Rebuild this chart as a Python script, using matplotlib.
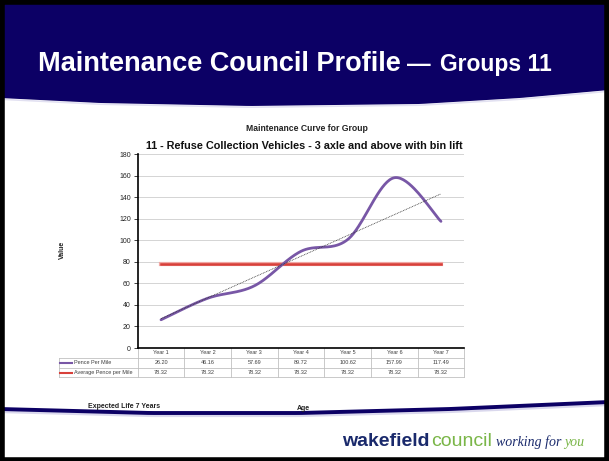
import numpy as np
import matplotlib
matplotlib.use('Agg')
import matplotlib.pyplot as plt
from matplotlib.transforms import blended_transform_factory

plt.rcParams['font.family'] = ['Liberation Sans', 'DejaVu Sans']

# chart data
years = ['Year 1', 'Year 2', 'Year 3', 'Year 4', 'Year 5', 'Year 6', 'Year 7']
pence_per_mile = [26.20, 46.16, 57.69, 89.72, 100.62, 157.99, 117.49]
avg_pence = [78.32, 78.32, 78.32, 78.32, 78.32, 78.32, 78.32]
y_ticks = [0, 20, 40, 60, 80, 100, 120, 140, 160, 180]

navy = '#0c0065'
purple = '#7857a6'
red = '#d8403a'


# excel style smoothed line (bezier through the points)
def smooth(xs, ys, n=40):
    pts = np.column_stack([xs, ys]).astype(float)
    out = []
    for i in range(len(pts) - 1):
        p0 = pts[max(i - 1, 0)]
        p1 = pts[i]
        p2 = pts[i + 1]
        p3 = pts[min(i + 2, len(pts) - 1)]
        c1 = p1 + (p2 - p0) / 6
        c2 = p2 - (p3 - p1) / 6
        t = np.linspace(0, 1, n)[:, None]
        seg = (1 - t) ** 3 * p1 + 3 * (1 - t) ** 2 * t * c1 + 3 * (1 - t) * t ** 2 * c2 + t ** 3 * p2
        out.append(seg)
    out = np.vstack(out)
    return out[:, 0], out[:, 1]


W, H = 609, 461
fig = plt.figure(figsize=(W / 100, H / 100), dpi=100)

# background / slide decoration in pixel coords
bg = fig.add_axes([0, 0, 1, 1])
bg.set_xlim(0, W)
bg.set_ylim(H, 0)
bg.axis('off')

# banner
bx = np.linspace(0, W, 100)
bottom = np.interp(bx, [0, 100, 250, 420, 520, W], [98, 103, 106, 104, 98, 90])
bg.fill_between(bx, 0, bottom, color=navy, lw=0, zorder=1)
bg.plot(bx, bottom + 1.2, color='#b8b4de', lw=1.2, alpha=0.4, zorder=1)

bg.text(38, 71, 'Maintenance Council Profile', color='white', fontsize=19.5,
        fontweight='bold', va='baseline', ha='left', zorder=3)
bg.text(407, 71, '\u2014', color='white', fontsize=17, fontweight='bold',
        va='baseline', ha='left', zorder=3)
bg.text(440, 71, 'Groups 11', color='white', fontsize=16.5, fontweight='bold',
        va='baseline', ha='left', zorder=3)

# bottom swoosh
lx = np.linspace(0, W, 100)
ly = np.interp(lx, [0, 150, 300, 450, W], [409, 413, 413, 409, 402])
bg.plot(lx, ly + 2, color='#b6b2dc', lw=3, alpha=0.5, zorder=1)
bg.plot(lx, ly, color=navy, lw=2.8, zorder=2)

bg.text(88, 406, 'Expected Life 7 Years', fontsize=5, fontweight='bold',
        color='#222222', va='center', ha='left')
bg.text(303, 408, 'Age', fontsize=5, fontweight='bold', color='#222222',
        va='center', ha='center')
bg.text(62, 250, 'Value', fontsize=5, fontweight='bold', color='#222222',
        va='center', ha='center', rotation=90)
bg.text(307, 128, 'Maintenance Curve for Group', fontsize=6.2, fontweight='bold',
        color='#222222', va='center', ha='center')
bg.text(304, 146, '11 - Refuse Collection Vehicles - 3 axle and above with bin lift',
        fontsize=7.8, fontweight='bold', color='#111111', va='center', ha='center')

# logo
bg.text(342, 441, 'wakefield', fontsize=14, fontweight='bold', color='#1a2a6c',
        va='center', ha='left')
bg.text(431, 441, 'council', fontsize=14, color='#7ab648', va='center', ha='left')
bg.text(496, 442, 'working for', fontsize=10, style='italic', color='#1a2a6c',
        va='center', ha='left', family='Liberation Serif')
bg.text(564, 442, 'you', fontsize=10, style='italic', color='#7ab648',
        va='center', ha='left', family='Liberation Serif')

# black frame
bg.plot([1.5, 1.5, W - 2, W - 2, 1.5], [2, H - 1.5, H - 1.5, 2, 2], color='black', lw=4, zorder=5)

# chart axes
ax_l, ax_r, ax_t, ax_b = 137.7, 464.3, 154, 348
ax = fig.add_axes([ax_l / W, 1 - ax_b / H, (ax_r - ax_l) / W, (ax_b - ax_t) / H])
ax.patch.set_alpha(0)
x = np.arange(len(years))
ax.set_xlim(-0.5, len(years) - 0.5)
ax.set_ylim(0, 180)
ax.set_yticks(y_ticks)
ax.tick_params(axis='y', labelsize=5, length=3, width=0.6, pad=2, colors='#222222')
ax.set_xticks([])
for yv in y_ticks[1:]:
    ax.axhline(yv, color='#d4d4d4', lw=0.7, zorder=0)
ax.spines['top'].set_visible(False)
ax.spines['right'].set_visible(False)
ax.spines['left'].set_linewidth(1.2)
ax.spines['bottom'].set_linewidth(1.2)

sx, sy = smooth(x, pence_per_mile)
ax.plot(sx, sy, color=purple, lw=2, solid_capstyle='round', zorder=3)
ax.plot(x, avg_pence, color='#f0a8a4', lw=3, zorder=2)
ax.plot(x, avg_pence, color=red, lw=1.8, zorder=2)

coef = np.polyfit(x, pence_per_mile, 1)
ax.plot(x, np.polyval(coef, x), color='#333333', lw=0.6, ls=(0, (1, 1)), zorder=4)

# data table under the chart
tr = blended_transform_factory(ax.transData, ax.transAxes)
row_h = 9.8 / (ax_b - ax_t)
left_frac = (59 - ax_l) / (ax_r - ax_l)
grid_c = '#c0c0c0'
txt_c = '#404040'
n = len(years)
# horizontal lines
for k in range(1, 4):
    ax.plot([left_frac if k > 1 else 0, 1], [-k * row_h] * 2, transform=ax.transAxes,
            color=grid_c, lw=0.6, clip_on=False)
ax.plot([left_frac, 0], [-row_h] * 2, transform=ax.transAxes, color=grid_c, lw=0.6, clip_on=False)
# vertical lines
for i in range(n + 1):
    ax.plot([i - 0.5, i - 0.5], [0, -3 * row_h], transform=tr, color=grid_c, lw=0.6, clip_on=False)
ax.plot([left_frac, left_frac], [-row_h, -3 * row_h], transform=ax.transAxes,
        color=grid_c, lw=0.6, clip_on=False)
for i in range(n):
    ax.text(i, -0.5 * row_h, years[i], transform=tr, fontsize=4, color=txt_c,
            ha='center', va='center')
    ax.text(i, -1.5 * row_h, '%.2f' % pence_per_mile[i], transform=tr, fontsize=4,
            color=txt_c, ha='center', va='center')
    ax.text(i, -2.5 * row_h, '%.2f' % avg_pence[i], transform=tr, fontsize=4,
            color=txt_c, ha='center', va='center')
seg_w = 12 / (ax_r - ax_l)
for k, (lab, col) in enumerate([('Pence Per Mile', purple), ('Average Pence per Mile', red)]):
    yy = -(1.5 + k) * row_h
    ax.plot([left_frac + 0.004, left_frac + 0.004 + seg_w], [yy, yy], transform=ax.transAxes,
            color=col, lw=1.5, clip_on=False)
    ax.text(left_frac + 0.008 + seg_w, yy, lab, transform=ax.transAxes, fontsize=4,
            color=txt_c, ha='left', va='center')

fig.savefig('out.png', dpi=100)
